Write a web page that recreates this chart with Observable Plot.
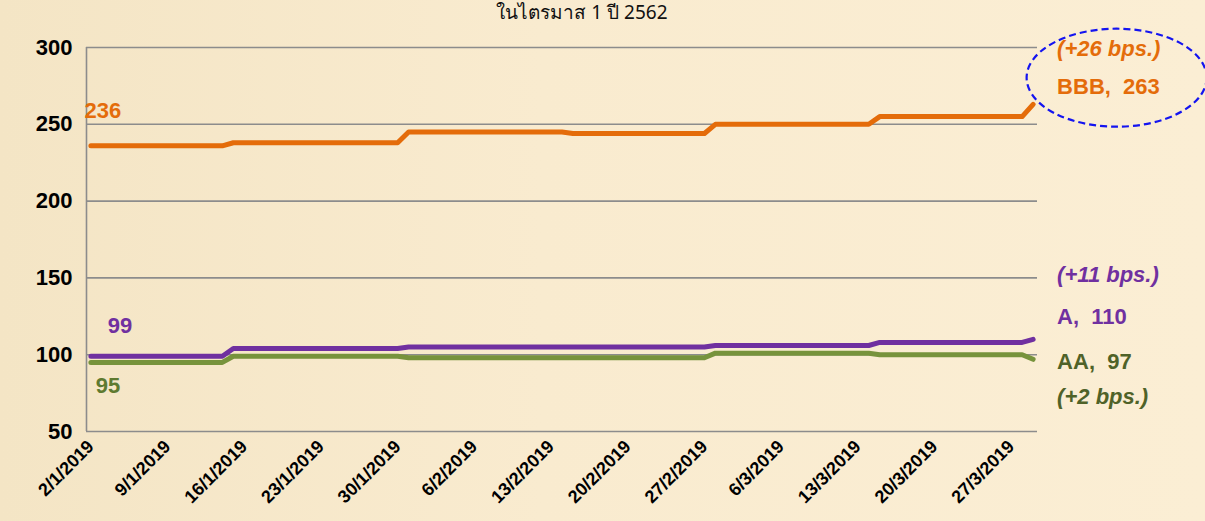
<!DOCTYPE html>
<html>
<head>
<meta charset="utf-8">
<script src="https://cdn.jsdelivr.net/npm/d3@7"></script>
<script src="https://cdn.jsdelivr.net/npm/@observablehq/plot@0.6"></script>
<style>
  html, body { margin: 0; padding: 0; }
  body {
    width: 1205px; height: 521px; overflow: hidden;
    background: linear-gradient(to right, #F4E5C5 0%, #F9EBCF 45%, #FBEED4 100%);
    font-family: "Liberation Sans", Arial, sans-serif;
  }
  #chart svg { display: block; }
</style>
</head>
<body>
<div id="chart"></div>
<script>
// ---- data ----
const title = "ในไตรมาส 1 ปี 2562";
const dates = ["2019-01-02","2019-01-14","2019-01-15","2019-01-30","2019-01-31","2019-02-14","2019-02-15","2019-02-27","2019-02-28","2019-03-14","2019-03-15","2019-03-28","2019-03-29"];
const bbb = [236,236,238,238,245,245,244,244,250,250,255,255,263];
const aRating = [99,99,104,104,105,105,105,105,106,106,108,108,110];
const aaRating = [95,95,99,99,98,98,98,98,101,101,100,100,97];
const tickDates = ["2019-01-02","2019-01-09","2019-01-16","2019-01-23","2019-01-30","2019-02-06","2019-02-13","2019-02-20","2019-02-27","2019-03-06","2019-03-13","2019-03-20","2019-03-27"];
const yTicks = [50,100,150,200,250,300];
const seriesNames = ["BBB","A","AA"];
const startLabels = ["236","99","95"];
const endLabels = ["BBB,\u00a0\u00a0263","A,\u00a0\u00a0110","AA,\u00a0\u00a097"];
const changeLabels = ["(+26 bps.)","(+11 bps.)","(+2 bps.)"];

// ---- build ----
const parse = d3.utcParse("%Y-%m-%d");
const D = dates.map(parse);
const T = tickDates.map(parse);
const rows = [];
[bbb, aRating, aaRating].forEach((vals, i) => vals.forEach((v, j) => rows.push({series: seriesNames[i], date: D[j], value: v})));
const first = D[0], last = D[D.length - 1];
const pad = 0.4 * 864e5;
const colors = {BBB: "#E46C0A", A: "#7030A0", AA: "#77933C"};
const textCol = {BBB: "#E46C0A", A: "#7030A0", AA: "#4F6228"};
const fmt = d => `${d.getUTCDate()}/${d.getUTCMonth() + 1}/${d.getUTCFullYear()}`;

const chart = Plot.plot({
  width: 1205,
  height: 521,
  marginLeft: 86,
  marginRight: 168,
  marginTop: 47,
  marginBottom: 90,
  style: {background: "transparent", fontFamily: "'Liberation Sans', Arial, sans-serif", overflow: "visible"},
  x: {type: "utc", domain: [new Date(+first - pad), new Date(+last + pad)]},
  y: {domain: [50, 300]},
  marks: [
    Plot.gridY(yTicks, {stroke: "#8c8c8c", strokeOpacity: 1, strokeWidth: 1.6}),
    Plot.ruleX([new Date(+first - pad)], {stroke: "#8c8c8c", strokeWidth: 1.6}),
    Plot.axisY(yTicks, {tickSize: 0, tickPadding: 14, fontSize: 22, fontWeight: "bold", fill: "#000", label: null}),
    Plot.axisX(T, {tickSize: 0, tickPadding: 12, tickRotate: -45, tickFormat: fmt, fontSize: 18, fontWeight: "bold", fill: "#000", label: null}),
    Plot.line(rows, {x: "date", y: "value", z: "series", stroke: d => colors[d.series], strokeWidth: 5, strokeLinecap: "round", strokeLinejoin: "round"}),
    // start labels
    Plot.text([startLabels[0]], {x: first, y: 259, dx: 12, fill: textCol.BBB, fontSize: 22, fontWeight: "bold"}),
    Plot.text([startLabels[1]], {x: first, y: 119, dx: 29, fill: textCol.A, fontSize: 22, fontWeight: "bold"}),
    Plot.text([startLabels[2]], {x: first, y: 79.5, dx: 17, fill: "#5E7A30", fontSize: 22, fontWeight: "bold"}),
    // end labels
    Plot.text([changeLabels[0]], {x: last, y: 299.3, dx: 24, textAnchor: "start", fill: textCol.BBB, fontSize: 22, fontWeight: "bold", fontStyle: "italic"}),
    Plot.text([endLabels[0]], {x: last, y: 274.6, dx: 24, textAnchor: "start", fill: textCol.BBB, fontSize: 22, fontWeight: "bold"}),
    Plot.text([changeLabels[1]], {x: last, y: 151.6, dx: 24, textAnchor: "start", fill: textCol.A, fontSize: 22, fontWeight: "bold", fontStyle: "italic"}),
    Plot.text([endLabels[1]], {x: last, y: 124.9, dx: 24, textAnchor: "start", fill: textCol.A, fontSize: 22, fontWeight: "bold"}),
    Plot.text([endLabels[2]], {x: last, y: 95.6, dx: 24, textAnchor: "start", fill: textCol.AA, fontSize: 22, fontWeight: "bold"}),
    Plot.text([changeLabels[2]], {x: last, y: 72.8, dx: 24, textAnchor: "start", fill: textCol.AA, fontSize: 22, fontWeight: "bold", fontStyle: "italic"}),
    // title at the top
    Plot.text([title], {frameAnchor: "top", dy: -42, dx: 20, fontSize: 19, fill: "#111", fontFamily: "'Noto Sans', 'DejaVu Sans', sans-serif", lineAnchor: "top"})
  ]
});

// dashed ellipse around the BBB end label, positioned from the scales
const sx = chart.scale("x"), sy = chart.scale("y");
const cx = sx.apply(last) + 84, cy = sy.apply(280);
const el = document.createElementNS("http://www.w3.org/2000/svg", "ellipse");
el.setAttribute("cx", cx);
el.setAttribute("cy", cy);
el.setAttribute("rx", 90);
el.setAttribute("ry", 49);
el.setAttribute("fill", "none");
el.setAttribute("stroke", "#1414F0");
el.setAttribute("stroke-width", 2.2);
el.setAttribute("stroke-dasharray", "7 4");
chart.appendChild(el);

document.getElementById("chart").appendChild(chart);
</script>
</body>
</html>
